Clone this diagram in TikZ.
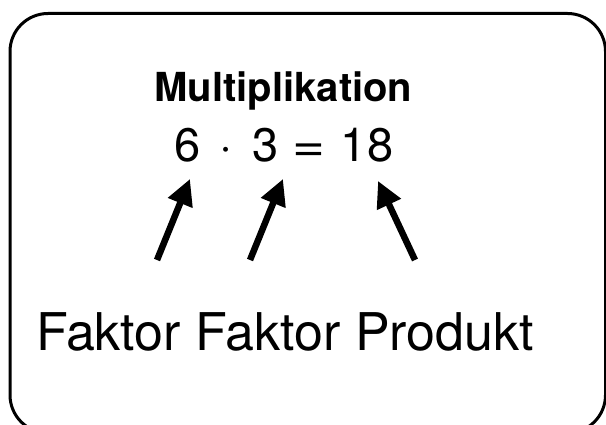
\documentclass[tikz,border=0pt]{standalone}
\usepackage{fontspec}
\usepackage{graphicx}
\setmainfont{TeX Gyre Heros}
\usetikzlibrary{arrows.meta}

\begin{document}
\begin{tikzpicture}[x=1pt,y=-1pt,
    frame/.style={draw=black, line width=3pt, rounded corners=38pt},
    label/.style={inner sep=0pt, anchor=base},
    term/.style={label, font=\fontsize{47}{47}\selectfont},
    arr/.style={line width=6.5pt, -{Triangle[length=26pt,width=25pt]}}]
  \useasboundingbox (0,0) rectangle (606,425);

  % outer rounded frame (bottom and right edges run past the page)
  \draw[frame] (10,13.5) rectangle (605.5,433);

  % heading
  \node[label, font=\fontsize{40}{40}\selectfont\bfseries] (title) at (283.5,102) {Multiplikation};

  % the equation, one node per term
  \node[term] (n6)   at (187.5,161.5) {6};
  \node[term] (ndot) at (226,161.5)   {·};
  \node[term] (n3)   at (265.5,161.5) {3};
  \node[term] (neq)  at (309.2,161.5) {\scalebox{1.2}[1]{=}};
  \node[term] (n18)  at (367,161.5)   {18};

  % names of the terms
  \node[label, font=\fontsize{52}{52}\selectfont] (names) at (285,350.7) {Faktor Faktor Produkt};

  % arrow tails
  \coordinate (t1) at (157,260);
  \coordinate (t2) at (250,260);
  \coordinate (t3) at (415,260);

  \draw[arr] (t1) -- ([xshift=2.5pt,yshift=-16.5pt]n6.south);
  \draw[arr] (t2) -- ([xshift=17.5pt,yshift=-16.5pt]n3.south);
  \draw[arr] (t3) -- ([xshift=11pt,yshift=-18.5pt]n18.south);
\end{tikzpicture}
\end{document}
